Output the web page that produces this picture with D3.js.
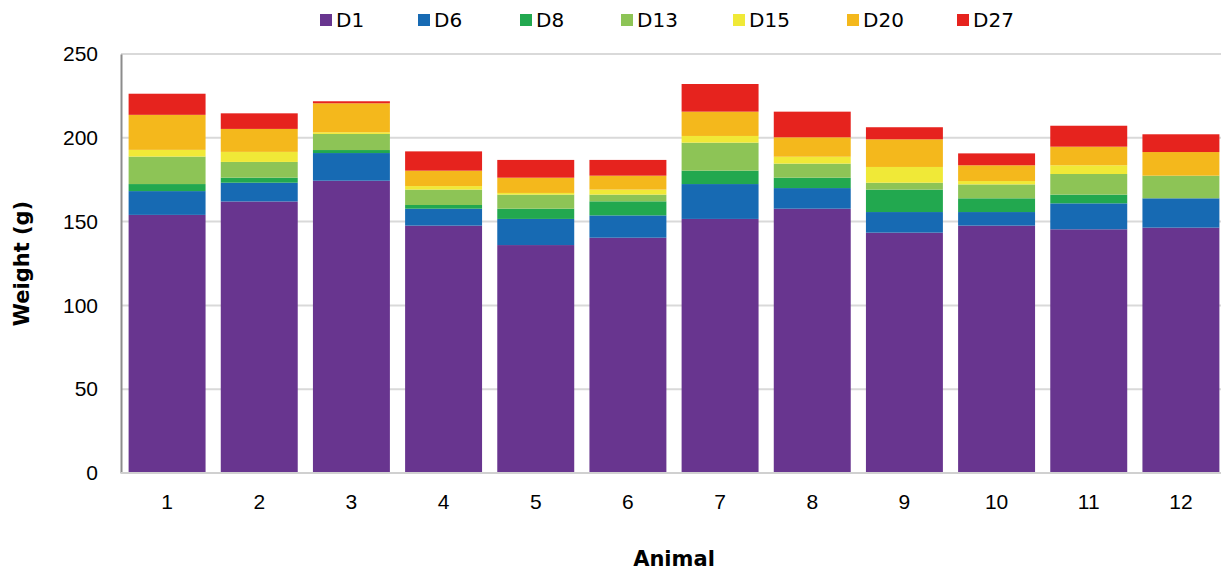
<!DOCTYPE html>
<html>
<head>
<meta charset="utf-8">
<script src="https://cdn.jsdelivr.net/npm/d3@7"></script>
<style>
  html, body { margin: 0; padding: 0; background: #fff; }
  svg { display: block; font-family: "DejaVu Sans", Verdana, sans-serif; }
</style>
</head>
<body>
<svg id="chart" width="1221" height="577"></svg>
<script>
// Animals on the x axis
const animals = ["1", "2", "3", "4", "5", "6", "7", "8", "9", "10", "11", "12"];
// Stack layers (day labels) and their colours
const days = ["D1", "D6", "D8", "D13", "D15", "D20", "D27"];
const colors = ["#68358f", "#176ab3", "#22a84f", "#8dc456", "#f0e937", "#f4b81c", "#e6231e"];
// Stacked segment heights per day (g), one value per animal
const D1  = [154.0, 162.0, 174.4, 147.6, 136.0, 140.4, 151.6, 157.7, 143.4, 147.6, 145.4, 146.4];
const D6  = [14.2, 11.2, 16.5, 10.1, 15.6, 13.3, 20.8, 12.3, 12.3, 8.1, 15.5, 17.5];
const D8  = [4.2, 3.0, 1.8, 2.2, 6.1, 8.4, 8.0, 6.2, 13.4, 8.2, 5.2, 0.0];
const D13 = [16.4, 9.4, 9.6, 9.2, 8.4, 4.0, 16.7, 8.4, 4.1, 8.3, 12.3, 13.5];
const D15 = [4.0, 6.0, 1.0, 2.1, 1.0, 3.0, 4.0, 4.1, 9.4, 2.0, 5.2, 0.0];
const D20 = [20.9, 13.7, 17.3, 9.2, 9.1, 8.3, 14.5, 11.6, 16.5, 9.4, 11.1, 14.1];
const D27 = [12.6, 9.3, 1.2, 11.5, 10.6, 9.4, 16.5, 15.3, 7.2, 7.1, 12.5, 10.6];
const yTicks = [0, 50, 100, 150, 200, 250];

const series = [D1, D6, D8, D13, D15, D20, D27];
const rows = animals.map((a, i) => {
  const r = { animal: a };
  days.forEach((d, k) => { r[d] = series[k][i]; });
  return r;
});

const svg = d3.select("#chart");
const plotLeft = 121, plotRight = 1227, plotTop = 54, plotBottom = 473;

const x = d3.scaleBand().domain(animals).range([plotLeft, plotRight])
  .paddingInner(0.165).paddingOuter(0.0825);
const y = d3.scaleLinear().domain([0, 250]).range([plotBottom, plotTop]);
const color = d3.scaleOrdinal().domain(days).range(colors);

// Horizontal gridlines
svg.append("g").selectAll("line").data(yTicks.filter(t => t > 0)).join("line")
  .attr("x1", plotLeft).attr("x2", 1221)
  .attr("y1", d => y(d)).attr("y2", d => y(d))
  .attr("stroke", "#d9d9d9").attr("stroke-width", 2);

// Stacked bars
const stacked = d3.stack().keys(days)(rows);
svg.append("g").selectAll("g").data(stacked).join("g")
  .attr("fill", d => color(d.key))
  .selectAll("rect").data(d => d).join("rect")
  .attr("x", d => x(d.data.animal))
  .attr("width", x.bandwidth())
  .attr("y", d => y(d[1]))
  .attr("height", d => Math.max(0, y(d[0]) - y(d[1])));

// Y axis
const yAxis = svg.append("g").attr("transform", `translate(${plotLeft},0)`)
  .call(d3.axisLeft(y).tickValues(yTicks).tickSize(0).tickPadding(23));
yAxis.select(".domain").attr("stroke", "#8c8c8c").attr("stroke-width", 2);
yAxis.selectAll("text").attr("font-size", 21).attr("fill", "#000");

// X axis
const xAxis = svg.append("g").attr("transform", `translate(0,${plotBottom})`)
  .call(d3.axisBottom(x).tickSize(0).tickPadding(21));
xAxis.select(".domain").attr("stroke", "#d0d0d0").attr("stroke-width", 2)
  .attr("d", `M${plotLeft},0H1221`);
xAxis.selectAll("text").attr("font-size", 21).attr("fill", "#000");

// Axis titles
svg.append("text")
  .attr("transform", `translate(29,${(plotTop + plotBottom) / 2}) rotate(-90)`)
  .attr("text-anchor", "middle").attr("font-size", 21).attr("font-weight", "bold")
  .text("Weight (g)");
svg.append("text")
  .attr("x", 674).attr("y", 566)
  .attr("text-anchor", "middle").attr("font-size", 21).attr("font-weight", "bold")
  .text("Animal");

// Legend
const legendX = [320, 418, 520, 621, 733, 847, 957];
const legend = svg.append("g").selectAll("g").data(days).join("g")
  .attr("transform", (d, i) => `translate(${legendX[i]},14)`);
legend.append("rect").attr("width", 12).attr("height", 12)
  .attr("fill", d => color(d));
legend.append("text").attr("x", 16).attr("y", 6).attr("dy", "0.35em")
  .attr("font-size", 20).attr("fill", "#000").text(d => d);
</script>
</body>
</html>
